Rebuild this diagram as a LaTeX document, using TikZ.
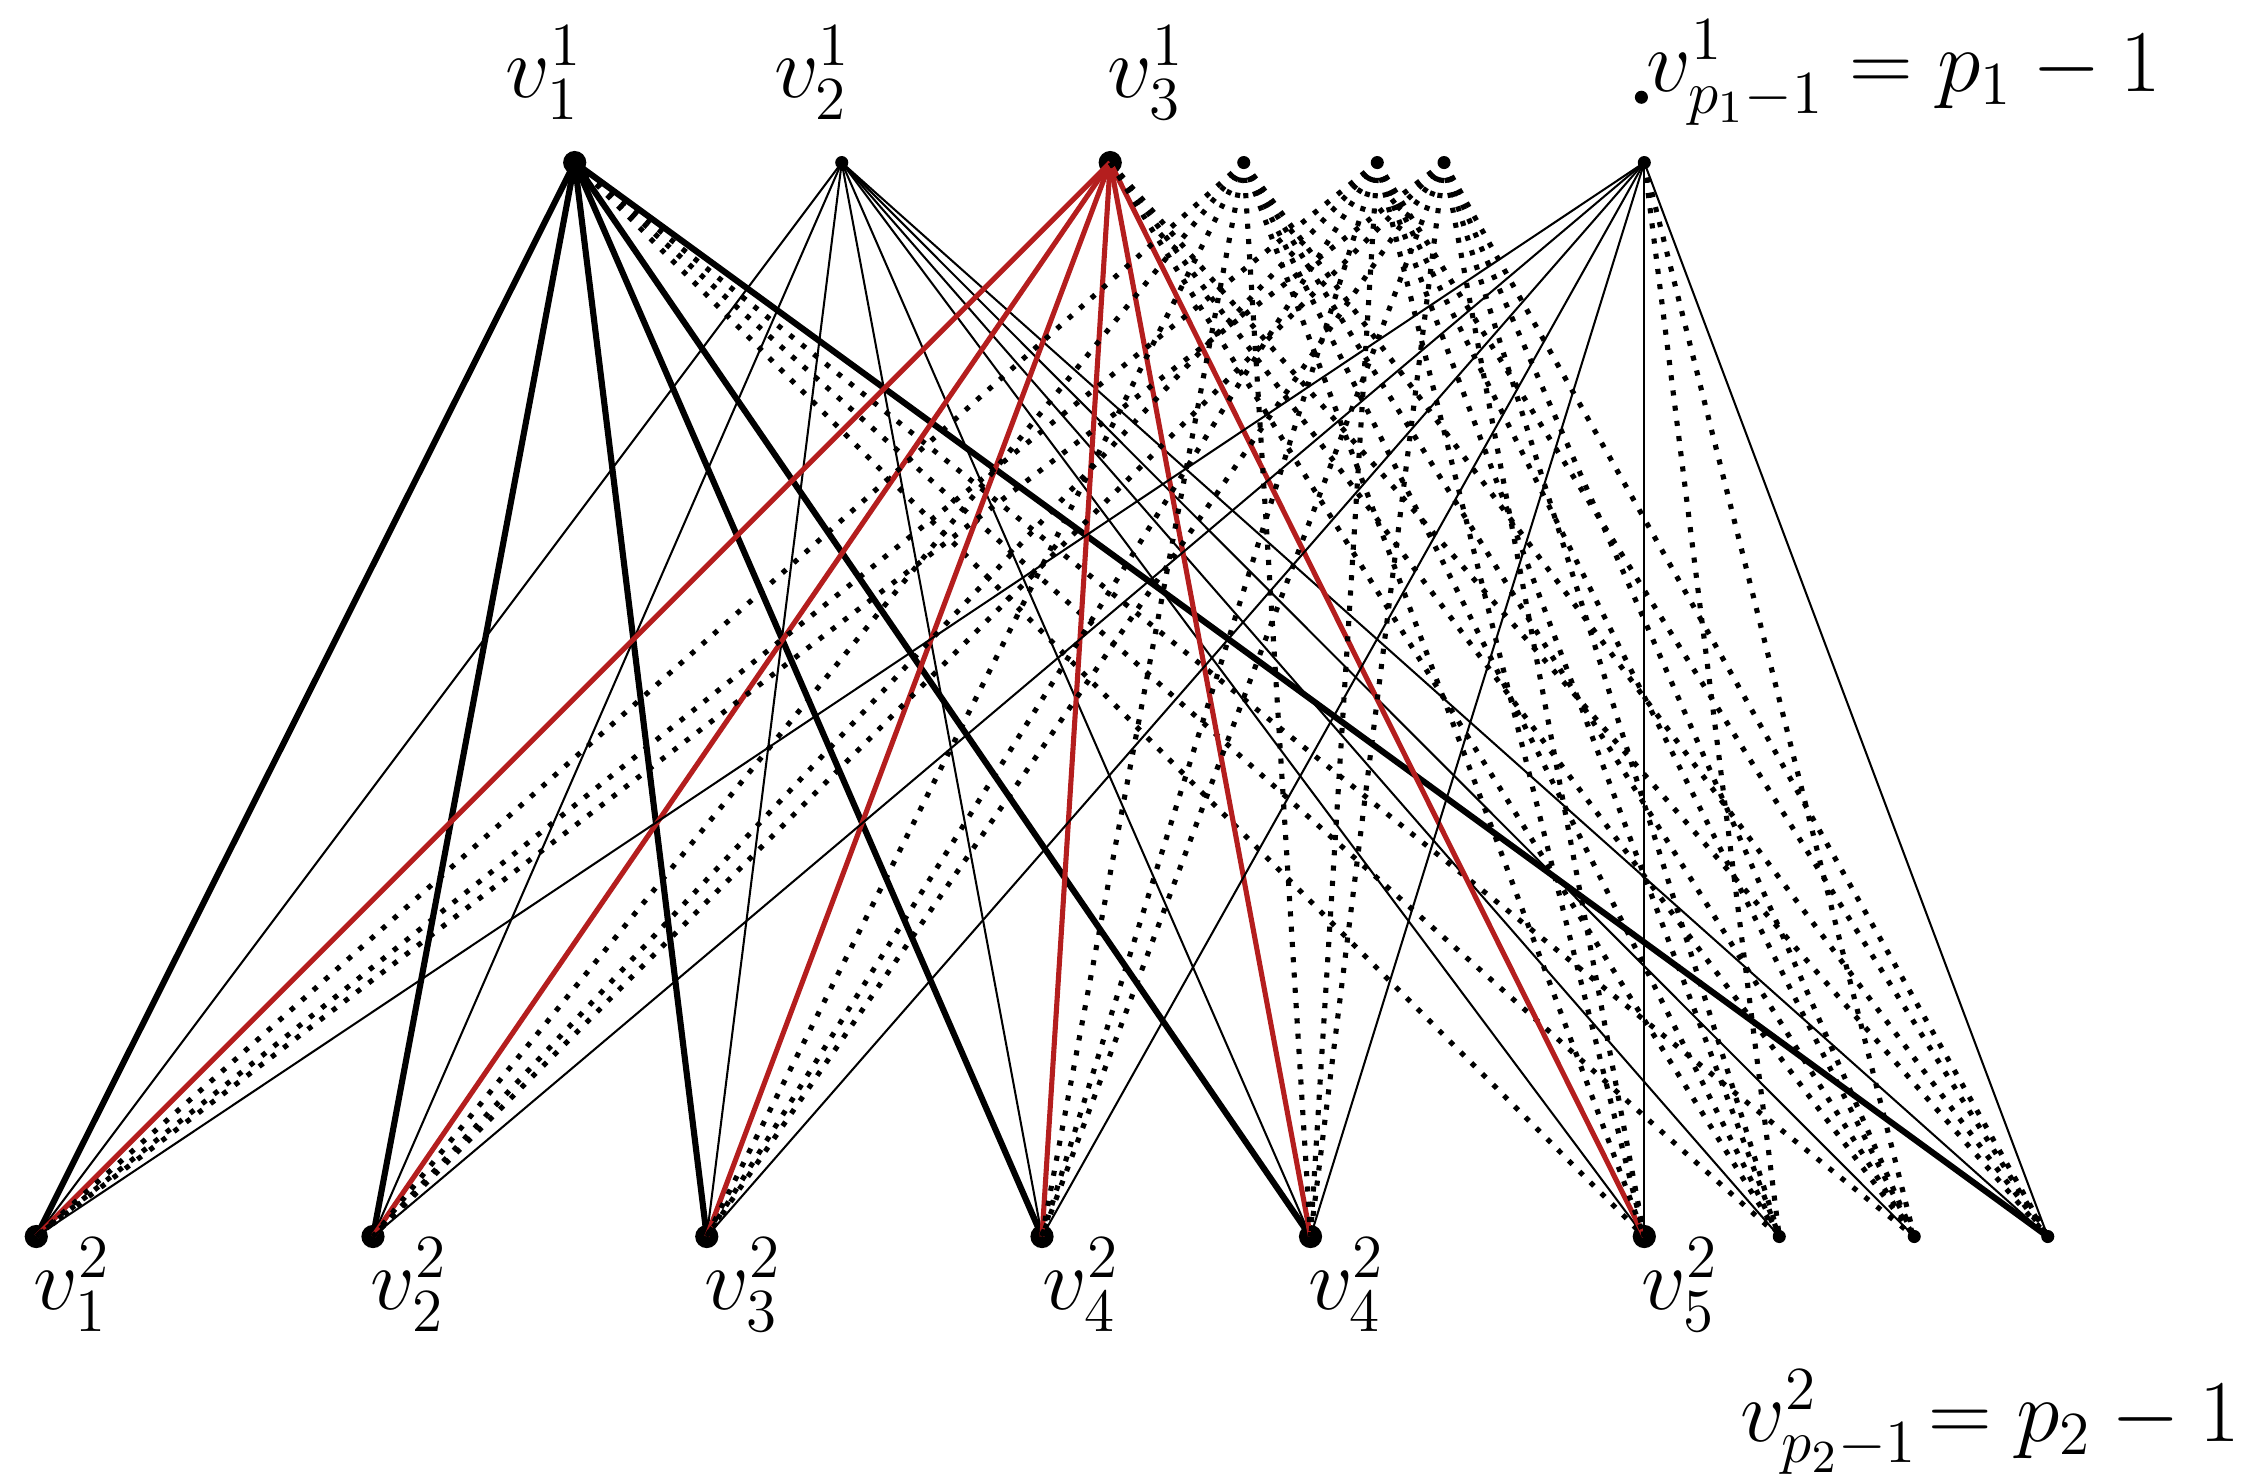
\documentclass[tikz,border=0pt]{standalone}
\begin{document}
\begin{tikzpicture}[x=0.01cm,y=-0.01cm,
  big/.style={circle,fill=black,inner sep=0pt,minimum size=0.16cm},
  small/.style={circle,fill=black,inner sep=0pt,minimum size=0.09cm},
  thk/.style={line width=1.2pt},
  thn/.style={line width=0.4pt},
  redl/.style={line width=1pt,draw={rgb,255:red,180;green,30;blue,30}},
  dot/.style={line width=1pt,dotted},
  lab/.style={font=\fontsize{18}{22}\selectfont}]
\useasboundingbox (0,0) rectangle (1560,1020);
% top nodes
\node[big] (t1) at (396,112) {};
\node[small] (t2) at (580,112) {};
\node[big] (t3) at (765,112) {};
\node[small] (t4) at (857,112) {};
\node[small] (t5) at (949,112) {};
\node[small] (t6) at (995,112) {};
\node[small] (t7) at (1133,112) {};
\node[small] (tx) at (1131,67) {};
% bottom nodes
\foreach \i/\x in {1/25,2/257,3/487,4/718,5/903,6/1133} \node[big] (b\i) at (\x,852) {};
\foreach \i/\x in {7/1226,8/1319,9/1411} \node[small] (b\i) at (\x,852) {};
% edges
\foreach \i in {1,...,5,9} \draw[thk] (t1.center) -- (b\i.center);
\foreach \i in {6,7,8} \draw[dot] (t1.center) -- (b\i.center);
\foreach \i in {1,...,9} \draw[thn] (t2.center) -- (b\i.center);
\foreach \i in {1,...,6} \draw[redl] (t3.center) -- (b\i.center);
\foreach \i in {7,8,9} \draw[dot] (t3.center) -- (b\i.center);
\foreach \t in {t4,t5,t6} \foreach \i in {1,...,9} \draw[dot] (\t.center) -- (b\i.center);
\foreach \i in {1,...,6,9} \draw[thn] (t7.center) -- (b\i.center);
\foreach \i in {7,8} \draw[dot] (t7.center) -- (b\i.center);
% labels
\node[lab] (l1) at (375,50) {$v_1^1$};
\node[lab] (l2) at (560,50) {$v_2^1$};
\node[lab] (l3) at (790,50) {$v_3^1$};
\node[lab,anchor=west] (l4) at (1122,50) {$v^1_{p_1-1}=p_1-1$};
\node[lab] (m1) at (50,885) {$v_1^2$};
\node[lab] (m2) at (282,885) {$v_2^2$};
\node[lab] (m3) at (512,885) {$v_3^2$};
\node[lab] (m4) at (745,885) {$v_4^2$};
\node[lab] (m5) at (928,885) {$v_4^2$};
\node[lab] (m6) at (1158,885) {$v_5^2$};
\node[lab,anchor=east] (m7) at (1556,980) {$v^2_{p_2-1}\!= p_2-1$};
\end{tikzpicture}
\end{document}
